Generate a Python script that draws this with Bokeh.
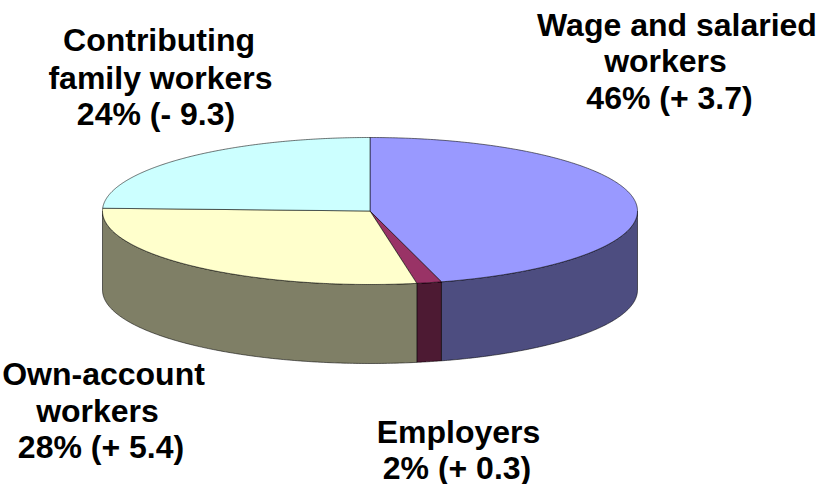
import numpy as np
from bokeh.plotting import figure
from bokeh.embed import file_html
from bokeh.resources import INLINE
from bokeh.core.properties import value

categories = ["Wage and salaried workers", "Employers", "Own-account workers", "Contributing family workers"]
shares = [45.7, 1.5, 28.4, 24.4]
top_colors = ["#9999FF", "#993366", "#FFFFCC", "#CCFFFF"]
side_colors = ["#4D4D80", "#4D1A33", "#7F7F66", "#668080"]
label_lines = ["Wage and salaried", "workers", "46% (+ 3.7)",
               "Employers", "2% (+ 0.3)",
               "Own-account", "workers", "28% (+ 5.4)",
               "Contributing", "family workers", "24% (- 9.3)"]
label_x = [676.5, 665, 669, 458, 456.5, 103, 97, 100.5, 158.5, 160, 155.5]
label_y = [24, 60, 97, 431, 467, 373, 410, 446, 39, 77, 113]

CX, CY, RX, RY, DEPTH = 369.5, 210.5, 267.5, 73.5, 79

p = figure(width=819, height=484, x_range=(0, 819), y_range=(484, 0),
           output_backend="svg", toolbar_location=None, min_border=0, outline_line_color=None)
p.xaxis.visible = False
p.yaxis.visible = False
p.grid.visible = False
p.background_fill_color = "white"


def edge(t):
    return CX + RX * np.sin(t), CY - RY * np.cos(t)


bounds = np.cumsum([0] + shares) / sum(shares) * 2 * np.pi
line_kw = dict(line_color="#000000", line_width=1, line_alpha=0.55)

for i in range(len(shares)):
    a, b = bounds[i], bounds[i + 1]
    lo, hi = max(a, np.pi / 2), min(b, 3 * np.pi / 2)
    if hi > lo:
        t = np.linspace(lo, hi, 160)
        x, y = edge(t)
        p.patch(np.r_[x, x[::-1]], np.r_[y, y[::-1] + DEPTH],
                fill_color=side_colors[i], **line_kw)

for i in range(len(shares)):
    t = np.linspace(bounds[i], bounds[i + 1], 240)
    x, y = edge(t)
    p.patch(np.r_[CX, x], np.r_[CY, y], fill_color=top_colors[i], **line_kw)

p.text(x=label_x, y=label_y, text=label_lines, text_align="center", text_baseline="middle",
       text_font=value("Liberation Sans"), text_font_size="32px", text_font_style="bold",
       text_color="#000000")

open("out.html", "w").write(file_html(p, INLINE))
